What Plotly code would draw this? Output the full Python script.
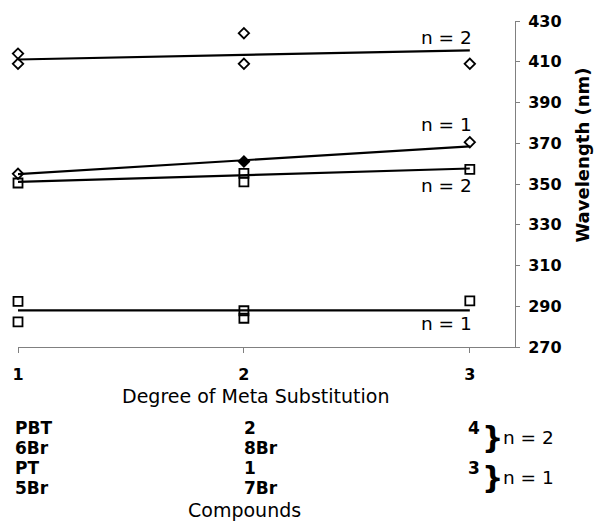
import plotly.graph_objects as go

# ---- data ----
diamond_n2_x = [1, 1, 2, 2, 3]
diamond_n2_y = [414, 409, 424, 409, 409]
diamond_n1_x = [1, 2, 3]
diamond_n1_y = [355, 361, 370.5]
square_n2_x = [1, 2, 2, 3]
square_n2_y = [350.5, 355.2, 351, 357.2]
square_n1_x = [1, 1, 2, 2, 3]
square_n1_y = [292.4, 282.3, 287.8, 284.1, 292.6]

trend_x = [1, 3]
trend_diamond_n2 = [411.1, 415.6]
trend_diamond_n1 = [354.8, 368.5]
trend_square_n2 = [351.0, 357.6]
trend_square_n1 = [288.0, 288.0]

y_ticks = [270, 290, 310, 330, 350, 370, 390, 410, 430]
x_ticks = [1, 2, 3]

compound_col1 = ["PBT", "6Br", "PT", "5Br"]
compound_col2 = ["2", "8Br", "1", "7Br"]
compound_col3 = ["4", "", "3", ""]
group_labels = ["n = 2", "n = 1"]

FONT = "DejaVu Sans"
W, H = 594, 521
L, R, T, B = 15, 79, 21, 174

def px(x):
    return (x - L) / (W - L - R)

def py(y):
    return (H - B - y) / (H - T - B)

fig = go.Figure()

for ty in [trend_diamond_n2, trend_diamond_n1, trend_square_n2, trend_square_n1]:
    fig.add_trace(go.Scatter(x=trend_x, y=ty, mode="lines",
                             line=dict(color="black", width=2.2),
                             showlegend=False, hoverinfo="skip", cliponaxis=False))

open_d = dict(symbol="diamond-open", size=8, color="black", line=dict(width=1.8, color="black"))
fig.add_trace(go.Scatter(x=diamond_n2_x, y=diamond_n2_y, mode="markers", marker=open_d,
                         showlegend=False, cliponaxis=False))
fig.add_trace(go.Scatter(x=diamond_n1_x, y=diamond_n1_y, mode="markers",
                         marker=dict(symbol=["diamond-open", "diamond", "diamond-open"], size=8,
                                     color="black", line=dict(width=1.8, color="black")),
                         showlegend=False, cliponaxis=False))
open_s = dict(symbol="square-open", size=9, color="black", line=dict(width=1.8, color="black"))
fig.add_trace(go.Scatter(x=square_n2_x, y=square_n2_y, mode="markers", marker=open_s,
                         showlegend=False, cliponaxis=False))
fig.add_trace(go.Scatter(x=square_n1_x, y=square_n1_y, mode="markers", marker=open_s,
                         showlegend=False, cliponaxis=False))

ann = []
# series labels
for txt, yv in [("n = 2", 421.8), ("n = 1", 379.3), ("n = 2", 349.2), ("n = 1", 281.4)]:
    ann.append(dict(x=3.02, y=yv, xref="x", yref="y", text=txt, showarrow=False,
                    xanchor="right", yanchor="middle", font=dict(family=FONT, size=18.5, color="black")))

# axis titles
ann.append(dict(x=px(254), y=py(396), xref="paper", yref="paper", text="Degree of Meta Substitution",
                showarrow=False, xanchor="center", yanchor="middle",
                font=dict(family=FONT, size=19, color="black")))
ann.append(dict(x=px(243), y=py(510), xref="paper", yref="paper", text="Compounds",
                showarrow=False, xanchor="center", yanchor="middle",
                font=dict(family=FONT, size=19, color="black")))
ann.append(dict(x=px(582), y=py(155), xref="paper", yref="paper", text="<b>Wavelength (nm)</b>",
                showarrow=False, xanchor="center", yanchor="middle", textangle=-90,
                font=dict(family=FONT, size=18, color="black")))

# compound table
row_y = [428, 448, 468, 488]
for col, xpos in [(compound_col1, 10), (compound_col2, 240), (compound_col3, 466)]:
    for txt, yy in zip(col, row_y):
        if txt:
            ann.append(dict(x=px(xpos), y=py(yy), xref="paper", yref="paper", text="<b>" + txt + "</b>",
                            showarrow=False, xanchor="left", yanchor="middle",
                            font=dict(family=FONT, size=17, color="black")))

for lab, yc in zip(group_labels, [437, 477]):
    ann.append(dict(x=px(492), y=py(yc), xref="paper", yref="paper", text="<b>}</b>",
                    showarrow=False, xanchor="center", yanchor="middle",
                    font=dict(family=FONT, size=30, color="black")))
    ann.append(dict(x=px(501), y=py(yc), xref="paper", yref="paper", text=lab,
                    showarrow=False, xanchor="left", yanchor="middle",
                    font=dict(family=FONT, size=18.5, color="black")))

fig.update_layout(
    width=W, height=H,
    margin=dict(l=L, r=R, t=T, b=B, pad=0),
    paper_bgcolor="white", plot_bgcolor="white",
    showlegend=False,
    annotations=ann,
    xaxis=dict(range=[1, 3.2], tickvals=x_ticks, ticktext=[str(v) for v in x_ticks],
               showgrid=False, zeroline=False, showline=True, linecolor="#808080", linewidth=1,
               ticks="outside", ticklen=5, tickcolor="#808080", ticklabelstandoff=8,
               tickfont=dict(family=FONT, size=16, color="black", weight="bold")),
    yaxis=dict(range=[270, 430], tickvals=y_ticks, side="right",
               showgrid=False, zeroline=False, showline=True, linecolor="#808080", linewidth=1,
               ticks="outside", ticklen=4, tickcolor="#808080", ticklabelstandoff=5,
               tickfont=dict(family=FONT, size=16, color="black", weight="bold")),
)

fig.write_html("out.html", config={"displayModeBar": False},
               post_script="document.body.style.margin='0';document.body.style.overflow='hidden';")
